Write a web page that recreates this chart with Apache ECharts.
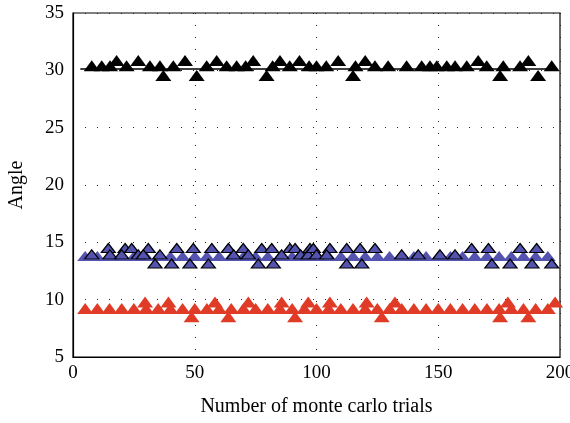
<!DOCTYPE html>
<html><head><meta charset="utf-8">
<script src="https://cdn.jsdelivr.net/npm/echarts@6/dist/echarts.min.js"></script>
<style>html,body{margin:0;padding:0;background:#fff}#c{width:570px;height:423px}</style>
</head><body><div id="c"></div>
<script>
// ---- data ----
var xTicks = [0, 50, 100, 150, 200];
var yTicks = [5, 10, 15, 20, 25, 30, 35];
// black estimates (angle ~30)
var blackX = [7.7, 11.8, 15.2, 17.9, 22, 26.8, 31.6, 35.7, 37.1, 41.2, 46, 50.8, 54.9, 59, 63.1, 67.2, 70.9, 74, 79.5, 82, 85, 89, 93, 97, 100, 104, 108.9, 115, 116, 120, 124, 129.4, 137, 143.2, 146.6, 149.4, 153.5, 156.9, 161.7, 166.4, 169.9, 175.4, 176.7, 183.6, 187, 191, 196.6];
var blackY = [30.4, 30.4, 30.4, 30.85, 30.4, 30.85, 30.4, 30.4, 29.55, 30.4, 30.85, 29.55, 30.4, 30.85, 30.4, 30.4, 30.4, 30.85, 29.55, 30.4, 30.85, 30.4, 30.85, 30.4, 30.4, 30.4, 30.85, 29.55, 30.4, 30.85, 30.4, 30.4, 30.4, 30.4, 30.4, 30.4, 30.4, 30.4, 30.4, 30.85, 30.4, 29.55, 30.4, 30.4, 30.85, 29.55, 30.4];
var blackLineX = [3, 199];
var blackLineY = [30.12, 30.12];
// true-value bands (blue, red)
var bandX = [5, 10, 15, 20, 25, 30, 35, 40, 45, 50, 55, 60, 65, 70, 75, 80, 85, 90, 95, 100, 105, 110, 115, 120, 125, 130, 135, 140, 145, 150, 155, 160, 165, 170, 175, 180, 185, 190, 195];
var blueBand = 13.8;
var redBand = 9.22;
// blue estimates (angle ~14)
var blueX = [14.5, 21.4, 24.1, 30.9, 42.6, 49.4, 57, 63.8, 69.9, 77.5, 81.6, 89.1, 91.2, 97.3,
             7.7, 15.2, 20, 26.8, 28.9, 35.7, 66, 72, 85.7, 93.5, 96.6,
             33.7, 40.5, 48, 55.6, 76.1, 82.3,
             98.7, 105.5, 112.4, 117.9, 124, 163.7, 170.6, 183.6, 190.4,
             100, 104.2, 135, 141.8, 150.7, 156.9,
             112.4, 118.6, 172, 179.5, 188.5, 196.6];
var blueY = [14.5, 14.5, 14.5, 14.5, 14.5, 14.5, 14.5, 14.5, 14.5, 14.5, 14.5, 14.5, 14.5, 14.5,
             13.95, 13.95, 13.95, 13.95, 13.95, 13.95, 13.95, 13.95, 13.95, 13.95, 13.95,
             13.15, 13.15, 13.15, 13.15, 13.15, 13.15,
             14.5, 14.5, 14.5, 14.5, 14.5, 14.5, 14.5, 14.5, 14.5,
             13.95, 13.95, 13.95, 13.95, 13.95, 13.95,
             13.15, 13.15, 13.15, 13.15, 13.15, 13.15];
// red estimates (angle ~9)
var redX = [29.6, 39.2, 58.3, 72, 85.7, 96.6, 105.5, 120.6, 132.2, 178.6, 198,
            48.7, 63.8, 91.2, 126.8, 175.4, 187];
var redY = [9.8, 9.8, 9.8, 9.8, 9.8, 9.8, 9.8, 9.8, 9.8, 9.8, 9.8,
            8.52, 8.52, 8.52, 8.52, 8.52, 8.52];

function pairs(xs, ys) { return xs.map(function (x, i) { return [x, ys[i]]; }); }
function flat(xs, v) { return xs.map(function (x) { return [x, v]; }); }

var FONT = 'Liberation Serif';
var BLUE = '#5454b0', RED = '#e03b26';
var chart = echarts.init(document.getElementById('c'), null, {renderer: 'canvas'});
var dotted = {show: true, lineStyle: {color: '#222', width: 1, type: [1, 11]}};
chart.setOption({
  animation: false,
  backgroundColor: '#fff',
  grid: {left: 73, right: 10, top: 13, bottom: 66, containLabel: false, outerBoundsMode: 'none',
         show: true, borderColor: '#000', borderWidth: 1.2, backgroundColor: 'transparent'},
  xAxis: {
    type: 'value', min: xTicks[0], max: xTicks[xTicks.length - 1], interval: 50,
    name: 'Number of monte carlo trials', nameLocation: 'middle', nameGap: 40,
    nameTextStyle: {fontFamily: FONT, fontSize: 20, color: '#000'},
    axisLine: {show: true, lineStyle: {color: '#000', width: 1.2}},
    axisTick: {show: false},
    axisLabel: {fontFamily: FONT, fontSize: 19, color: '#000', margin: 7},
    splitLine: dotted
  },
  yAxis: {
    type: 'value', min: yTicks[0], max: yTicks[yTicks.length - 1], interval: 5,
    name: 'Angle', nameLocation: 'middle', nameGap: 46,
    nameTextStyle: {fontFamily: FONT, fontSize: 20, color: '#000'},
    axisLine: {show: true, lineStyle: {color: '#000', width: 1.2}},
    axisTick: {show: false},
    axisLabel: {fontFamily: FONT, fontSize: 19, color: '#000', margin: 9},
    splitLine: dotted
  },
  series: [
    {type: 'line', data: pairs(blackLineX, blackLineY), symbol: 'none', lineStyle: {color: '#000', width: 1.5}, silent: true, z: 2},
    {type: 'scatter', data: pairs(blackX, blackY), symbol: 'triangle', symbolSize: [16, 11], itemStyle: {color: '#000', opacity: 1}, silent: true, z: 3},
    {type: 'scatter', data: flat(bandX, blueBand), symbol: 'triangle', symbolSize: [16, 10], itemStyle: {color: BLUE, opacity: 1}, silent: true, z: 2},
    {type: 'scatter', data: pairs(blueX, blueY), symbol: 'triangle', symbolSize: [14, 9], itemStyle: {color: BLUE, opacity: 1, borderColor: '#000', borderWidth: 1.2}, silent: true, z: 3},
    {type: 'scatter', data: flat(bandX, redBand), symbol: 'triangle', symbolSize: [16, 11], itemStyle: {color: RED, opacity: 1}, silent: true, z: 2},
    {type: 'scatter', data: pairs(redX, redY), symbol: 'triangle', symbolSize: [16, 11], itemStyle: {color: RED, opacity: 1}, silent: true, z: 3}
  ]
});
</script></body></html>
